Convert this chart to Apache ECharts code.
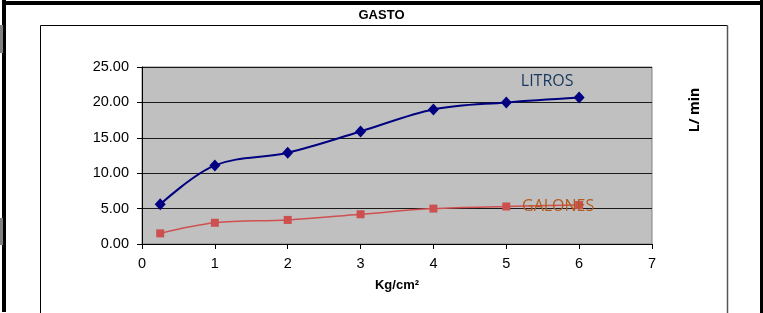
<!DOCTYPE html>
<html>
<head>
<meta charset="utf-8">
<script src="https://cdn.jsdelivr.net/npm/echarts@6/dist/echarts.min.js"></script>
<style>
  html, body { margin: 0; padding: 0; background: #fff; }
  #chart { width: 763px; height: 313px; }
</style>
</head>
<body>
<div id="chart"></div>
<script>
// presion (Kg/cm2) y gasto
var presion = [0.25, 1, 2, 3, 4, 5, 6]
var litros = [5.6, 11.1, 12.9, 15.9, 19.0, 20.0, 20.7]
var galones = [1.5, 3.0, 3.4, 4.2, 5.0, 5.3, 5.5]
var xTicks = [0, 1, 2, 3, 4, 5, 6, 7]
var yTicks = [0, 5, 10, 15, 20, 25]

function pares(xs, ys, etiqueta, estilo) {
  return xs.map(function (x, i) {
    var d = { value: [x, ys[i]] }
    if (i === xs.length - 1) {
      d.label = Object.assign({ show: true, formatter: etiqueta }, estilo)
    }
    return d
  })
}

var myChart = echarts.init(document.getElementById('chart'))
myChart.setOption({
  animation: false,
  backgroundColor: '#fff',
  title: {
    text: 'GASTO',
    left: 'center',
    top: 4,
    textStyle: { fontFamily: 'Liberation Sans', fontSize: 13, fontWeight: 'bold', color: '#000' }
  },
  grid: {
    left: 142, right: 111, top: 67, bottom: 69,
    show: true,
    backgroundColor: '#C0C0C0',
    borderColor: '#808080',
    borderWidth: 1
  },
  xAxis: {
    type: 'value',
    min: xTicks[0],
    max: xTicks[xTicks.length - 1],
    interval: 1,
    name: 'Kg/cm²',
    nameLocation: 'middle',
    nameGap: 35,
    nameTextStyle: { fontFamily: 'Liberation Sans', fontSize: 13, fontWeight: 'bold', color: '#000' },
    axisLine: { lineStyle: { color: '#000', width: 1 } },
    axisTick: { show: true, length: 5, lineStyle: { color: '#000' } },
    axisLabel: { fontFamily: 'Liberation Sans', fontSize: 14.5, color: '#000', margin: 12 },
    splitLine: { show: false }
  },
  yAxis: {
    type: 'value',
    min: yTicks[0],
    max: yTicks[yTicks.length - 1],
    interval: 5,
    axisLine: { show: true, lineStyle: { color: '#000', width: 1 } },
    axisTick: { show: true, length: 5, lineStyle: { color: '#000' } },
    axisLabel: {
      fontFamily: 'Liberation Sans', fontSize: 14.5, color: '#000', margin: 13,
      formatter: function (v) { return v.toFixed(2) }
    },
    splitLine: { show: true, lineStyle: { color: '#1a1a1a', width: 1 } }
  },
  series: [
    {
      name: 'LITROS',
      type: 'line',
      smooth: 0.35,
      data: pares(presion, litros, 'LITROS', {
        position: 'inside', offset: [-32, -16],
        fontFamily: 'Open Sans', fontSize: 16, color: '#17375E'
      }),
      lineStyle: { color: '#000080', width: 2 },
      itemStyle: { color: '#000080' },
      symbol: 'diamond',
      symbolSize: [11, 12],
      z: 3
    },
    {
      name: 'GALONES',
      type: 'line',
      smooth: 0.35,
      data: pares(presion, galones, 'GALONES', {
        position: 'inside', offset: [-21, 1],
        fontFamily: 'Open Sans', fontSize: 16, color: '#B35A1F'
      }),
      lineStyle: { color: '#D05050', width: 1.5 },
      itemStyle: { color: '#CC5050' },
      symbol: 'rect',
      symbolSize: 8,
      z: 2
    }
  ],
  graphic: [
    // marco exterior
    { type: 'rect', left: 2, top: 0, shape: { width: 4, height: 312 }, style: { fill: '#000' } },
    { type: 'rect', left: 2, top: 1, shape: { width: 761, height: 4 }, style: { fill: '#000' } },
    { type: 'rect', left: 760, top: 0, shape: { width: 3, height: 313 }, style: { fill: '#000' } },
    { type: 'rect', left: 0, top: 25, shape: { width: 3, height: 28 }, style: { fill: '#808080' } },
    { type: 'rect', left: 0, top: 218, shape: { width: 3, height: 27 }, style: { fill: '#808080' } },
    // marco del grafico
    { type: 'line', shape: { x1: 40.5, y1: 25.5, x2: 727.5, y2: 25.5 }, style: { stroke: '#000', lineWidth: 1 } },
    { type: 'line', shape: { x1: 40.5, y1: 25.5, x2: 40.5, y2: 313 }, style: { stroke: '#000', lineWidth: 1 } },
    { type: 'line', shape: { x1: 727.5, y1: 25.5, x2: 727.5, y2: 313 }, style: { stroke: '#555', lineWidth: 1.5 } },
    {
      type: 'text',
      x: 695, y: 110,
      rotation: Math.PI / 2,
      style: {
        text: 'L/ min',
        fontFamily: 'Open Sans', fontSize: 14, fontWeight: 'bold', fill: '#000',
        align: 'center', verticalAlign: 'middle'
      }
    }
  ]
})
</script>
</body>
</html>
